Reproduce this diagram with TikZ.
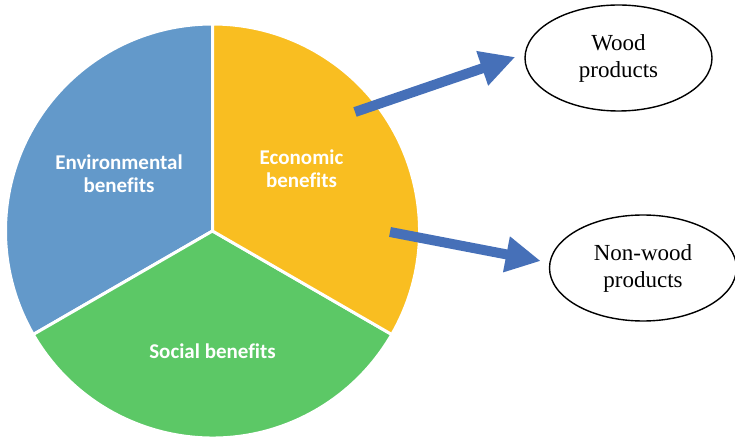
\documentclass[tikz,border=0pt]{standalone}
\usepackage{fontspec}
\setmainfont{Liberation Serif}
\newfontfamily\pielabelfont[Ligatures=NoCommon]{Carlito}
\usetikzlibrary{arrows.meta,shapes.geometric,positioning,calc}
\definecolor{envblue}  {RGB}{99,153,202}
\definecolor{ecoyellow}{RGB}{249,190,33}
\definecolor{socgreen} {RGB}{92,200,102}
\definecolor{flowblue} {RGB}{70,112,184}

\begin{document}
\begin{tikzpicture}[x=1pt,y=1pt,
  slice/.style={draw=white,line width=3pt,line join=round},
  pielabel/.style={font=\pielabelfont\bfseries\fontsize{21}{23}\selectfont,
                   text=white,align=center},
  product/.style={ellipse,draw,line width=1.4pt,minimum width=187pt,
                  minimum height=106pt,inner sep=0pt,
                  font=\fontsize{23}{27}\selectfont,align=center},
  flow/.style={draw=flowblue,line width=10pt,
               -{Triangle[length=35pt,width=34pt]}},
]
\useasboundingbox (0,0) rectangle (735,439);

%% Pie: three equal slices
\coordinate (pie) at (212.5,208);
\def\rad{207pt}
\filldraw[slice,fill=envblue] (pie) -- ++(90:\rad)
  arc[start angle=90,end angle=210,radius=\rad] -- cycle;
\filldraw[slice,fill=socgreen] (pie) -- ++(210:\rad)
  arc[start angle=210,end angle=330,radius=\rad] -- cycle;
\filldraw[slice,fill=ecoyellow] (pie) -- ++(330:\rad)
  arc[start angle=-30,end angle=90,radius=\rad] -- cycle;

%% Slice labels
\node[pielabel] (env) at (119,265.5) {Environmental\\benefits};
\node[pielabel] (eco) at (301.5,270) {Economic\\benefits};
\node[pielabel] (soc) at (212.5,88) {Social benefits};

%% Products
\node[product] (wood)    at (618.5,381) {Wood\\products};
\node[product] (nonwood) at (643,171)   {Non-wood\\products};

%% Arrows out of the economic slice
\coordinate (ecoA) at (355,327);
\coordinate (ecoB) at (390,207);
\draw[flow] (ecoA) -- ([shift={(-9pt,1pt)}]wood.west);
\draw[flow] (ecoB) -- ([shift={(-8pt,7pt)}]nonwood.west);

\end{tikzpicture}
\end{document}
